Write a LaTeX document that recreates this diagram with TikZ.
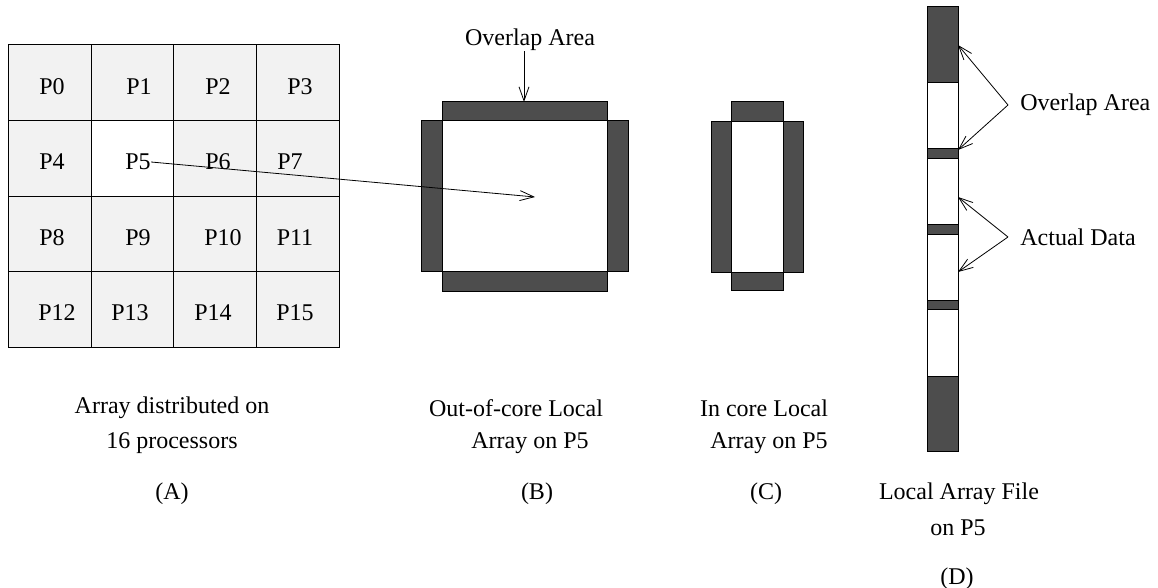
\documentclass[tikz,border=0pt]{standalone}
\usepackage{fontspec}
\setmainfont{Liberation Serif}
\usetikzlibrary{arrows.meta}
\definecolor{bardark}{HTML}{4D4D4D}
\definecolor{cellgray}{HTML}{F2F2F2}

\begin{document}
\begin{tikzpicture}
[
    x=0.5pt, y=-0.5pt,
    bar/.style={draw=black,fill=bardark,line width=0.5pt},
    hole/.style={draw=black,fill=white,line width=0.5pt},
    lbl/.style={font=\fontsize{12}{14}\selectfont,inner sep=0pt},
    pnt/.style={-{Straight Barb[length=7pt,width=5pt]},line width=0.4pt},
]

\useasboundingbox (0,0) rectangle (1158,588);

% (A) processor grid
\fill[cellgray] (8,45) rectangle (339,348);
\fill[white] (91,121) rectangle (173,197);
\draw[line width=0.5pt] (8,45) rectangle (339,348);
\draw[line width=0.5pt] (91,45) -- (91,348);
\draw[line width=0.5pt] (173,45) -- (173,348);
\draw[line width=0.5pt] (256,45) -- (256,348);
\draw[line width=0.5pt] (8,121) -- (339,121);
\draw[line width=0.5pt] (8,197) -- (339,197);
\draw[line width=0.5pt] (8,272) -- (339,272);

\node (p0) at (52,87) [lbl] {P0};
\node (p1) at (139,87) [lbl] {P1};
\node (p2) at (218,87) [lbl] {P2};
\node (p3) at (300,87) [lbl] {P3};
\node (p4) at (52,162) [lbl] {P4};
\node (p5) at (138,162) [lbl] {P5};
\node (p6) at (218,162) [lbl] {P6};
\node (p7) at (290,162) [lbl] {P7};
\node (p8) at (52,238) [lbl] {P8};
\node (p9) at (138,238) [lbl] {P9};
\node (p10) at (223,238) [lbl] {P10};
\node (p11) at (295,238) [lbl] {P11};
\node (p12) at (57,313) [lbl] {P12};
\node (p13) at (130,313) [lbl] {P13};
\node (p14) at (213,313) [lbl] {P14};
\node (p15) at (295,313) [lbl] {P15};

% (B) out-of-core local array
\draw[bar] (442,102) rectangle (607,121);
\draw[bar] (421,121) rectangle (442,272);
\draw[bar] (607,121) rectangle (628,272);
\draw[bar] (442,272) rectangle (607,292);
\draw[hole] (442,121) rectangle (607,272);

\coordinate (bmid) at (535,197);
\coordinate (btop) at (524,102);
\node (ovB) at (530,40) [lbl] {Overlap Area};

\draw[pnt] (p5.east) -- (bmid);
\draw[pnt] (ovB.south -| btop) -- (btop);

% (C) in-core local array
\draw[bar] (731,102) rectangle (783,122);
\draw[bar] (711,122) rectangle (731,273);
\draw[bar] (783,122) rectangle (803,273);
\draw[bar] (731,273) rectangle (783,291);
\draw[hole] (731,122) rectangle (783,273);

% (D) local array file
\draw[bar] (927,7) rectangle (958,83);
\draw[hole] (927,83) rectangle (958,149);
\draw[bar] (927,149) rectangle (958,159);
\draw[hole] (927,159) rectangle (958,225);
\draw[bar] (927,225) rectangle (958,235);
\draw[hole] (927,235) rectangle (958,301);
\draw[bar] (927,301) rectangle (958,310);
\draw[hole] (927,310) rectangle (958,377);
\draw[bar] (927,377) rectangle (958,452);

\node (ovD) at (1020,105) [lbl,anchor=west] {Overlap Area};
\node (adD) at (1020,237) [lbl,anchor=west] {Actual Data};
\coordinate (ovfork) at (1008,105);
\coordinate (adfork) at (1008,237);
\coordinate (ovup) at (958,45);
\coordinate (ovdn) at (958,150);
\coordinate (adup) at (958,197);
\coordinate (addn) at (958,272);

\draw[pnt] (ovfork) -- (ovup);
\draw[pnt] (ovfork) -- (ovdn);
\draw[pnt] (adfork) -- (adup);
\draw[pnt] (adfork) -- (addn);

% captions
\node (capA1) at (172,408) [lbl] {Array distributed on};
\node (capA2) at (172,443) [lbl] {16 processors};
\node (capA) at (172,494) [lbl] {(A)};
\node (capB1) at (516,408) [lbl] {Out-of-core Local};
\node (capB2) at (530,443) [lbl] {Array on P5};
\node (capB) at (537,494) [lbl] {(B)};
\node (capC1) at (764,408) [lbl] {In core Local};
\node (capC2) at (769,443) [lbl] {Array on P5};
\node (capC) at (766,494) [lbl] {(C)};
\node (capD1) at (959,494) [lbl] {Local Array File};
\node (capD2) at (958,528) [lbl] {on P5};
\node (capD) at (957,579) [lbl] {(D)};
\end{tikzpicture}
\end{document}
